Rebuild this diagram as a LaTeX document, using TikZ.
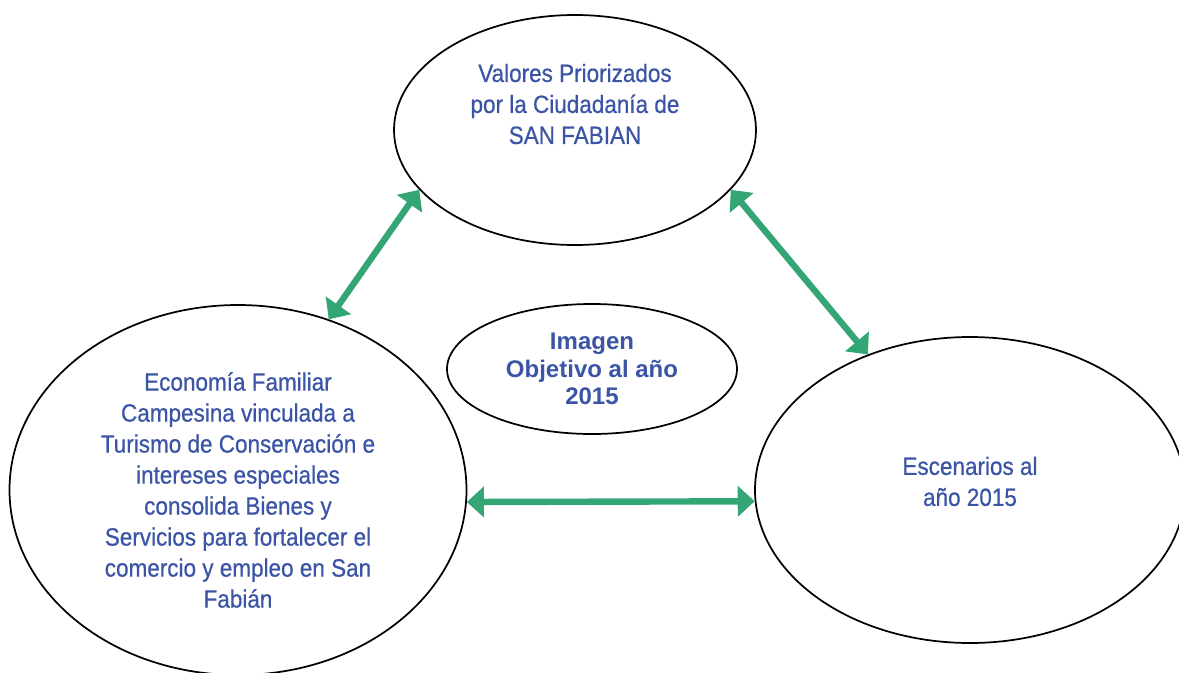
\documentclass[tikz,border=0pt]{standalone}
\usepackage{fontspec}
\setmainfont{Liberation Sans}
\newfontfamily\narrowsans[FakeStretch=0.9, FakeBold=0.6]{Liberation Sans}
\usetikzlibrary{shapes.geometric}
\usetikzlibrary{arrows.meta}
\definecolor{textblue}{RGB}{59,84,165}
\definecolor{arrowgreen}{RGB}{52,166,118}
\tikzstyle{ellipse1} = [ellipse, draw=black, line width=1.3pt, inner sep=0pt]
\tikzstyle{label1} = [text=textblue, align=center, inner sep=0pt, font=\narrowsans\fontsize{18.75}{23.25}\selectfont]
\tikzstyle{label2} = [text=textblue, align=center, inner sep=0pt, font=\bfseries\fontsize{18}{20.6}\selectfont]
\tikzstyle{arrow1} = [{Triangle[length=12.75pt,width=22.5pt]}-{Triangle[length=12.75pt,width=22.5pt]}, draw=arrowgreen, fill=arrowgreen, line width=4.8pt]

\begin{document}
\begin{tikzpicture}[x=0.75pt, y=-0.75pt]
			\useasboundingbox (0,0) rectangle (1179,672);
			\node[ellipse1, minimum width=271.5pt, minimum height=172.5pt](valores) at (575,130){};
			\node[label1](valorestext) at ([yshift=19.5pt]valores.center){Valores Priorizados\\por la Ciudadanía de\\SAN FABIAN};
			\node[ellipse1, label1, minimum width=342.75pt, minimum height=277.5pt](economia) at (238,490){Economía Familiar\\Campesina vinculada a\\Turismo de Conservación e\\intereses especiales\\consolida Bienes y\\Servicios para fortalecer el\\comercio y empleo en San\\Fabián};
			\node[ellipse1, minimum width=322.5pt, minimum height=229.5pt](escenarios) at (970,490){};
			\node[label1](escenariostext) at ([yshift=6.4pt]escenarios.center){Escenarios al\\año 2015};
			\node[ellipse1, label2, minimum width=217.5pt, minimum height=97.5pt](imagen) at (592,369){Imagen\\Objetivo al año\\2015};
			\draw[arrow1] (valores.201) -- (economia.62);
			\draw[arrow1] (valores.339) -- (escenarios.127);
			\draw[arrow1] (economia.-3) -- (escenarios.183);
		\end{tikzpicture}
\end{document}
